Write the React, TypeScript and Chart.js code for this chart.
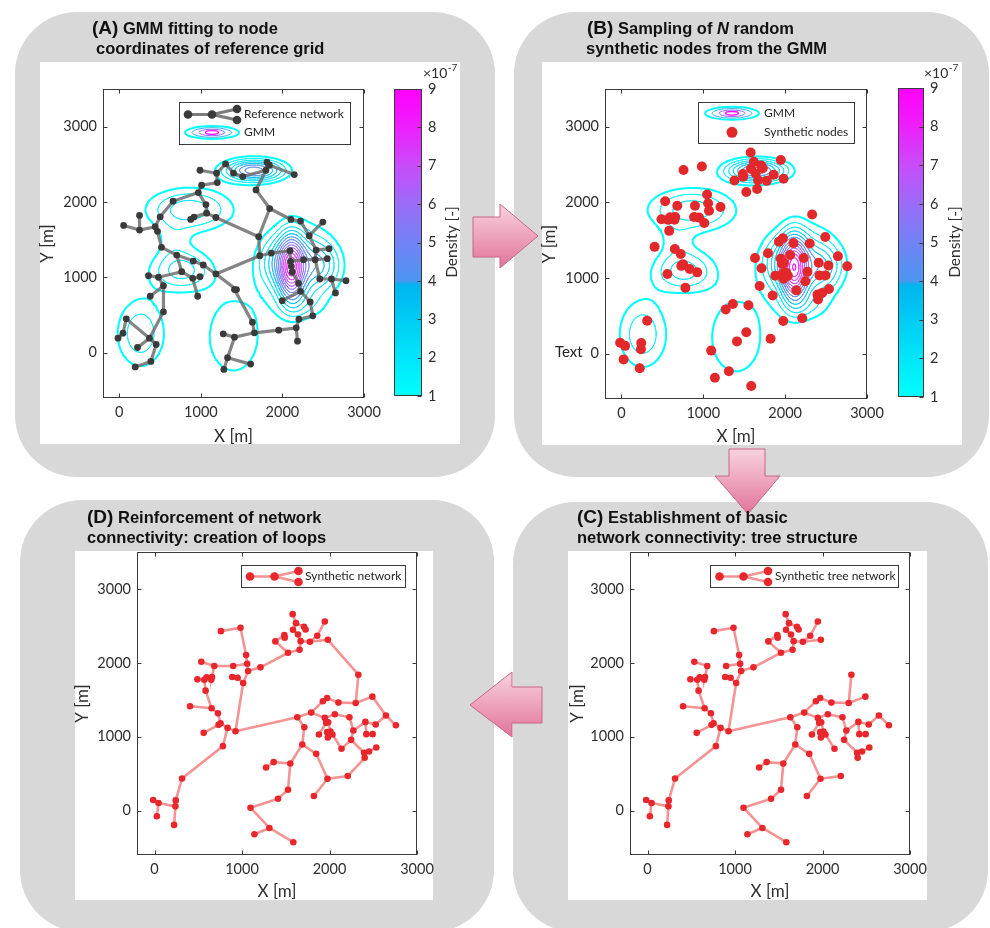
import React, { useEffect, useRef } from "react";
import { Chart, registerables } from "chart.js";

Chart.register(...registerables);

// ------------------------------------------------------------------ data
const X_TICKS = [0, 1000, 2000, 3000];
const Y_TICKS = [0, 1000, 2000, 3000];
const X_LIMITS = [-200, 3000];
const Y_LIMITS = [-600, 3500];
const COLORBAR_TICKS = [1, 2, 3, 4, 5, 6, 7, 8, 9];
const COLORBAR_LIMITS = [1, 9];
const CONTOUR_LEVELS = [1, 1.6, 2.2, 2.8, 3.4, 4.0, 4.6, 5.2, 5.8, 6.4, 7.0, 7.6, 8.2, 8.8];
const CMAP_STOPS = [1, 2, 3, 3.9, 4.0, 5, 6, 7, 8, 9];
const CMAP_COLORS = ["#00ffff", "#00e6fa", "#00ccf5", "#00b4f0", "#4b96f0", "#7282f5", "#9a6cf7", "#c84cfa", "#ee1ffd", "#ff00ff"];

// Gaussian mixture components (metres), weights sum ~1
const GMM_MEAN_X = [1650, 860, 760, 260, 1400, 2110, 2250, 2470, 2250, 650, 1900];
const GMM_MEAN_Y = [2420, 1900, 1100, 258, 215, 1120, 1200, 1150, 620, 1500, 1200];
const GMM_SIGMA_X = [260, 390, 272, 235, 310, 110, 300, 170, 220, 150, 170];
const GMM_SIGMA_Y = [105, 210, 203, 365, 480, 300, 360, 200, 160, 150, 250];
const GMM_WEIGHT = [0.0858, 0.1338, 0.0867, 0.1094, 0.1449, 0.1161, 0.1832, 0.0342, 0.0221, 0.0099, 0.0427];

// Reference network (panel A)
const REF_X = [989, 1193, 1201, 1303, 1400, 1514, 1798, 1811, 1840, 2145, 1676, 1844, 1709, 1722,
  1009, 969, 659, 501, 875, 916, 1062, 1070, 1184,
  53, 248, 248, 440, 468, 517,
  704, 907, 1029, 765, 900, 989, 961, 358, 480, 541, 379, 541,
  1184, 1437, 1412, 1632, 1656, 1412, 1274, 1327, 1282, 1610,
  1954, 2169, 2185, 2202, 2372,
  1864, 2092, 2100, 2109, 2120, 2197, 2222, 1998, 2340, 2104, 2222, 2328, 2495, 2413, 2572, 2401, 2550, 2458, 2601, 2780, 2650, 2259,
  85, -16, 45, 223, 370, 452, 387, 195];
const REF_Y = [2422, 2382, 2258, 2506, 2383, 2338, 2422, 2528, 2488, 2365, 2161, 1914, 1540, 1288,
  2223, 2126, 2012, 1804, 1769, 1800, 1967, 1853, 1795,
  1690, 1628, 1822, 1672, 1611, 1399,
  1297, 1217, 1165, 1076, 988, 1010, 750, 1023, 1002, 891, 750, 543,
  1046, 838, 838, 406, 265, 207, 251, -66, -221, -150,
  300, 331, 154, 445, 490,
  1323, 1354, 1213, 1147, 1072, 922, 816, 692, 675, 1769, 1747, 1553, 1734, 1363, 1381, 1235, 1248, 979, 979, 957, 794, 1235,
  450, 194, 260, 70, 194, 110, -115, -188];
const REF_EDGES = [
  [0, 1], [1, 3], [1, 2], [3, 4], [4, 5], [5, 6], [6, 7], [7, 8], [8, 9], [6, 10], [10, 11], [11, 12], [12, 13], [11, 65],
  [2, 14], [14, 15], [15, 16], [16, 17], [17, 26], [15, 20], [20, 21], [21, 19], [19, 18], [21, 22], [22, 12],
  [23, 24], [25, 24], [24, 26], [26, 27], [27, 28], [28, 29], [29, 30], [30, 31], [29, 32], [32, 33], [33, 34], [33, 35],
  [32, 37], [37, 36], [37, 38], [38, 39], [38, 40], [40, 82],
  [78, 82], [79, 80], [80, 78], [81, 82], [82, 83], [83, 84], [84, 85],
  [41, 31], [41, 13], [41, 42], [42, 43], [43, 44], [44, 45], [45, 46], [46, 47], [46, 48], [48, 49], [48, 50],
  [45, 51], [51, 52], [52, 53], [52, 54], [54, 55], [55, 64],
  [13, 56], [56, 57], [57, 58], [58, 59], [59, 60], [60, 61], [61, 62], [62, 63], [62, 64],
  [65, 66], [66, 67], [67, 68], [67, 69], [69, 70], [69, 71], [71, 72], [71, 77], [77, 58], [71, 73], [73, 74], [74, 75], [74, 76],
];

// Synthetic nodes (panels B, C, D)
const SYN_X = [1579, 1617, 1708, 1727, 1583, 1640, 1484, 1488, 1381, 1670, 1776, 1860, 1947, 1981, 1658, 1526,
  759, 983, 1047, 1059, 1070, 1211, 899, 683, 535, 888, 949, 1013, 490, 569, 596, 657, 649, 584, 406, 653, 725, 755, 732, 835, 926, 562, 782, 315, 243, 239, 46, -15, 27, 224,
  2330, 2300, 2490, 2102, 1973, 1924, 1791, 1632, 1712, 1689, 1552, 1526, 1412, 1097, 1313, 1142, 1586, 1362, 1275, 1848, 1977, 2209, 1822,
  1947, 1962, 1985, 2061, 2228, 1879, 1973, 2011, 2034, 1981, 2137, 2247, 2273, 2410, 2528, 2645, 2759, 2421, 2493, 2395, 2452, 2535, 2402];
const SYN_Y = [2659, 2537, 2488, 2452, 2447, 2384, 2375, 2339, 2290, 2294, 2285, 2366, 2560, 2312, 2177, 2137,
  2429, 2474, 2105, 1988, 1889, 1939, 1957, 1957, 2015, 1808, 1799, 1727, 1777, 1772, 1804, 1808, 1772, 1624, 1412, 1385, 1318, 1183, 1161, 1120, 1075, 1053, 873, 436, 139, 58, 103, 144, -76, -193,
  1840, 1457, 1543, 1462, 1525, 1480, 1327, 1264, 1129, 895, 639, 283, 162, 40, -234, -319, -427, 657, 585, 769, 432, 468, 198,
  1255, 1188, 1197, 1305, 1264, 1030, 1062, 1071, 1030, 990, 837, 958, 1084, 1201, 1165, 1287, 1156, 1035, 1035, 783, 801, 855, 715];
const TREE_EDGES = [
  [15, 8], [8, 6], [6, 7], [15, 14], [14, 9], [9, 5], [5, 4], [4, 1], [1, 0], [1, 2], [2, 3], [9, 10], [10, 11], [11, 12], [10, 13],
  [21, 15], [20, 21], [20, 19], [19, 18], [18, 17], [17, 16], [19, 22], [20, 27], [27, 26], [26, 25], [40, 27],
  [40, 39], [39, 37], [37, 38], [38, 41], [37, 36], [36, 35], [35, 34], [35, 33], [33, 29], [29, 28], [29, 30], [30, 31], [31, 32], [31, 23], [23, 24],
  [39, 42], [42, 43], [43, 44], [44, 45], [45, 49], [45, 46], [46, 47], [46, 48],
  [40, 57], [57, 56], [56, 55], [55, 54], [54, 53], [53, 51], [51, 50], [51, 52],
  [56, 73], [73, 74], [74, 78], [73, 75], [75, 80], [80, 79], [79, 82], [80, 81], [81, 83],
  [73, 76], [76, 77], [77, 85], [85, 84], [84, 92], [92, 93], [93, 94], [92, 95], [85, 86], [86, 87], [87, 88], [88, 89], [86, 90], [90, 91],
  [57, 58], [58, 59], [59, 60], [60, 61], [61, 62], [62, 63], [63, 64], [64, 66], [64, 65], [60, 67], [67, 68], [59, 69], [69, 70], [70, 71], [70, 72],
];
const LOOP_EDGES = [[13, 50], [23, 22], [52, 88], [71, 95], [83, 84]];

// ------------------------------------------------------------------ styling
const FONT = "Lato, 'Open Sans', sans-serif";
const TITLE_FONT = "'Liberation Sans', Arial, sans-serif";
const INK = "#2e2e2e";
const TICK_SIZE = 14.5;
const AXIS_TITLE_SIZE = 17;
const PANEL_GRAY = "#d8d8d8";
const RED = "#e8262b";
const RED_EDGE = "rgba(240,105,105,0.72)";

type Rect = { x: number; y: number; w: number; h: number };
type Box = { l: number; t: number; r: number; b: number };

// ------------------------------------------------------------------ helpers
function hexRgb(h: string) {
  const n = parseInt(h.slice(1), 16);
  return [(n >> 16) & 255, (n >> 8) & 255, n & 255];
}
function cmap(v: number) {
  const s = CMAP_STOPS;
  if (v <= s[0]) return CMAP_COLORS[0];
  if (v >= s[s.length - 1]) return CMAP_COLORS[s.length - 1];
  let i = 0;
  while (v > s[i + 1]) i++;
  const t = (v - s[i]) / (s[i + 1] - s[i]);
  const a = hexRgb(CMAP_COLORS[i]);
  const b = hexRgb(CMAP_COLORS[i + 1]);
  const c = a.map((av, k) => Math.round(av + (b[k] - av) * t));
  return `rgb(${c[0]},${c[1]},${c[2]})`;
}

function density(x: number, y: number) {
  let s = 0;
  for (let k = 0; k < GMM_WEIGHT.length; k++) {
    const dx = (x - GMM_MEAN_X[k]) / GMM_SIGMA_X[k];
    const dy = (y - GMM_MEAN_Y[k]) / GMM_SIGMA_Y[k];
    s += (GMM_WEIGHT[k] / (2 * Math.PI * GMM_SIGMA_X[k] * GMM_SIGMA_Y[k])) * Math.exp(-0.5 * (dx * dx + dy * dy));
  }
  return s * 1e7;
}

let GRID: { nx: number; ny: number; step: number; v: Float64Array } | null = null;
function getGrid() {
  if (GRID) return GRID;
  const step = 16;
  const nx = Math.round((X_LIMITS[1] - X_LIMITS[0]) / step);
  const ny = Math.round((Y_LIMITS[1] - Y_LIMITS[0]) / step);
  const v = new Float64Array((nx + 1) * (ny + 1));
  for (let j = 0; j <= ny; j++)
    for (let i = 0; i <= nx; i++) v[j * (nx + 1) + i] = density(X_LIMITS[0] + i * step, Y_LIMITS[0] + j * step);
  GRID = { nx, ny, step, v };
  return GRID;
}

function contourPoints(level: number) {
  const { nx, ny, step, v } = getGrid();
  const out: { x: number; y: number }[] = [];
  for (let j = 0; j < ny; j++) {
    for (let i = 0; i < nx; i++) {
      const x0 = X_LIMITS[0] + i * step, y0 = Y_LIMITS[0] + j * step;
      const x1 = x0 + step, y1 = y0 + step;
      const a = v[j * (nx + 1) + i], b = v[j * (nx + 1) + i + 1];
      const c = v[(j + 1) * (nx + 1) + i + 1], d = v[(j + 1) * (nx + 1) + i];
      const idx = (a > level ? 1 : 0) | (b > level ? 2 : 0) | (c > level ? 4 : 0) | (d > level ? 8 : 0);
      if (idx === 0 || idx === 15) continue;
      const e = (k: number) => {
        if (k === 0) return { x: x0 + ((level - a) / (b - a)) * step, y: y0 };
        if (k === 1) return { x: x1, y: y0 + ((level - b) / (c - b)) * step };
        if (k === 2) return { x: x0 + ((level - d) / (c - d)) * step, y: y1 };
        return { x: x0, y: y0 + ((level - a) / (d - a)) * step };
      };
      let pairs: number[][] = [];
      const m = (a + b + c + d) / 4;
      switch (idx) {
        case 1: case 14: pairs = [[3, 0]]; break;
        case 2: case 13: pairs = [[0, 1]]; break;
        case 3: case 12: pairs = [[3, 1]]; break;
        case 4: case 11: pairs = [[1, 2]]; break;
        case 6: case 9: pairs = [[0, 2]]; break;
        case 7: case 8: pairs = [[3, 2]]; break;
        case 5: pairs = m > level ? [[0, 1], [2, 3]] : [[3, 0], [1, 2]]; break;
        case 10: pairs = m > level ? [[3, 0], [1, 2]] : [[0, 1], [2, 3]]; break;
      }
      for (const [p, q] of pairs) out.push(e(p), e(q), { x: NaN, y: NaN });
    }
  }
  return out;
}

function contourDatasets() {
  return CONTOUR_LEVELS.map((lv, i) => ({
    label: `level ${lv}`,
    data: contourPoints(lv),
    showLine: true,
    pointRadius: 0,
    borderColor: cmap(lv),
    borderWidth: i === 0 ? 2.0 : 0.95,
    borderCapStyle: "round",
    borderJoinStyle: "round",
    tension: 0,
    order: 10 + i,
  }));
}

function edgeSegments(xs: number[], ys: number[], edges: number[][]) {
  const out: { x: number; y: number }[] = [];
  for (const [i, j] of edges) out.push({ x: xs[i], y: ys[i] }, { x: xs[j], y: ys[j] }, { x: NaN, y: NaN });
  return out;
}
function nodePoints(xs: number[], ys: number[]) {
  return xs.map((x, i) => ({ x, y: ys[i] }));
}

// ------------------------------------------------------------------ plugins
const boxPlugin = {
  id: "matlabBox",
  afterDatasetsDraw(chart: any) {
    const { ctx, chartArea: a, scales } = chart;
    ctx.save();
    ctx.strokeStyle = "#3a3a3a";
    ctx.lineWidth = 1;
    const L = Math.round(a.left) + 0.5, T = Math.round(a.top) + 0.5;
    const R = Math.round(a.right) - 0.5, B = Math.round(a.bottom) - 0.5;
    ctx.strokeRect(L, T, R - L, B - T);
    ctx.beginPath();
    for (const v of X_TICKS) {
      const px = Math.round(scales.x.getPixelForValue(v)) + 0.5;
      ctx.moveTo(px, B); ctx.lineTo(px, B - 4);
      ctx.moveTo(px, T); ctx.lineTo(px, T + 4);
    }
    for (const v of Y_TICKS) {
      const py = Math.round(scales.y.getPixelForValue(v)) + 0.5;
      ctx.moveTo(L, py); ctx.lineTo(L + 4, py);
      ctx.moveTo(R, py); ctx.lineTo(R - 4, py);
    }
    ctx.stroke();
    ctx.restore();
  },
};

function legendPlugin(origin: Rect, draw: (ctx: CanvasRenderingContext2D) => void) {
  return {
    id: "customLegend",
    afterDraw(chart: any) {
      const ctx = chart.ctx as CanvasRenderingContext2D;
      ctx.save();
      ctx.translate(-origin.x, -origin.y);
      draw(ctx);
      ctx.restore();
    },
  };
}

function legendFrame(ctx: CanvasRenderingContext2D, b: Box) {
  ctx.fillStyle = "#ffffff";
  ctx.fillRect(b.l, b.t, b.r - b.l, b.b - b.t);
  ctx.strokeStyle = "#3a3a3a";
  ctx.lineWidth = 1;
  ctx.strokeRect(b.l + 0.5, b.t + 0.5, b.r - b.l - 1, b.b - b.t - 1);
}
function legendText(ctx: CanvasRenderingContext2D, text: string, x: number, y: number) {
  ctx.fillStyle = "#1e1e1e";
  ctx.font = `12px ${FONT}`;
  ctx.textAlign = "left";
  ctx.textBaseline = "middle";
  ctx.fillText(text, x, y);
}
function gmmIcon(ctx: CanvasRenderingContext2D, cx: number, cy: number) {
  const rx = [27, 20, 13, 6.5], ry = [6.5, 4.8, 3.2, 1.8];
  const col = ["#00ffff", "#3fb0f3", "#9a6cf7", "#ff00ff"], lw = [2, 1, 1, 1.3];
  for (let i = 0; i < 4; i++) {
    ctx.beginPath();
    ctx.strokeStyle = col[i];
    ctx.lineWidth = lw[i];
    ctx.ellipse(cx, cy, rx[i], ry[i], 0, 0, Math.PI * 2);
    ctx.stroke();
  }
}
function networkIcon(ctx: CanvasRenderingContext2D, xs: number[], cy: number, edge: string, edgeW: number, node: string, r: number) {
  const pts = [[xs[0], cy], [xs[1], cy], [xs[2], cy - 5.5], [xs[2], cy + 5.5]];
  ctx.strokeStyle = edge;
  ctx.lineWidth = edgeW;
  ctx.lineCap = "round";
  ctx.beginPath();
  ctx.moveTo(pts[0][0], pts[0][1]); ctx.lineTo(pts[1][0], pts[1][1]);
  ctx.moveTo(pts[1][0], pts[1][1]); ctx.lineTo(pts[2][0], pts[2][1]);
  ctx.moveTo(pts[1][0], pts[1][1]); ctx.lineTo(pts[3][0], pts[3][1]);
  ctx.stroke();
  ctx.fillStyle = node;
  for (const p of pts) {
    ctx.beginPath();
    ctx.arc(p[0], p[1], r, 0, Math.PI * 2);
    ctx.fill();
  }
}

// ------------------------------------------------------------------ chart configs
type MainSpec = { canvas: Rect; plot: Box; yTitleX: number; xTitleY: number };

function axisCommon() {
  return {
    type: "linear",
    grid: { display: false, drawTicks: false },
    border: { display: false },
    ticks: { padding: 6, color: INK, font: { family: FONT, size: TICK_SIZE }, autoSkip: false, maxRotation: 0, callback: (v: any) => String(v) },
  };
}

function mainConfig(spec: MainSpec, datasets: any[], legend: (ctx: CanvasRenderingContext2D) => void) {
  const c = spec.canvas, p = spec.plot;
  const lh = AXIS_TITLE_SIZE * 1.2;
  return {
    type: "scatter",
    data: { datasets },
    options: {
      responsive: false,
      animation: false,
      devicePixelRatio: 1,
      events: [],
      layout: { padding: { left: 0, top: p.t - c.y, right: c.x + c.w - p.r, bottom: 0 } },
      plugins: { legend: { display: false }, tooltip: { enabled: false } },
      scales: {
        x: {
          ...axisCommon(),
          min: X_LIMITS[0],
          max: X_LIMITS[1],
          afterBuildTicks: (s: any) => { s.ticks = X_TICKS.map((v) => ({ value: v })); },
          afterFit: (s: any) => { s.height = c.y + c.h - p.b; s.paddingLeft = 0; s.paddingRight = 0; },
          title: { display: true, text: "X [m]", color: INK, font: { family: FONT, size: AXIS_TITLE_SIZE }, padding: { top: 0, bottom: c.y + c.h - spec.xTitleY - lh / 2 } },
        },
        y: {
          ...axisCommon(),
          min: Y_LIMITS[0],
          max: Y_LIMITS[1],
          afterBuildTicks: (s: any) => { s.ticks = Y_TICKS.map((v) => ({ value: v })); },
          afterFit: (s: any) => { s.width = p.l - c.x; s.paddingTop = 0; s.paddingBottom = 0; },
          title: { display: true, text: "Y [m]", color: INK, font: { family: FONT, size: AXIS_TITLE_SIZE }, padding: { top: spec.yTitleX - c.x - lh / 2, bottom: 0 } },
        },
      },
    },
    plugins: [boxPlugin, legendPlugin(c, legend)],
  };
}

type CbSpec = { canvas: Rect; bar: Box; expX: number; labelX: number; labelY: number };

function colorbarConfig(spec: CbSpec) {
  const c = spec.canvas, b = spec.bar;
  return {
    type: "bar",
    data: {
      labels: ["density"],
      datasets: [
        {
          data: [COLORBAR_LIMITS],
          borderWidth: 0,
          barPercentage: 1,
          categoryPercentage: 1,
          backgroundColor: (context: any) => {
            const chart = context.chart;
            const ys = chart.scales && chart.scales.y;
            if (!chart.chartArea || !ys) return CMAP_COLORS[0];
            const y0 = ys.getPixelForValue(COLORBAR_LIMITS[0]);
            const y1 = ys.getPixelForValue(COLORBAR_LIMITS[1]);
            const g = chart.ctx.createLinearGradient(0, y0, 0, y1);
            const span = COLORBAR_LIMITS[1] - COLORBAR_LIMITS[0];
            CMAP_STOPS.forEach((v, i) => g.addColorStop((v - COLORBAR_LIMITS[0]) / span, CMAP_COLORS[i]));
            return g;
          },
        },
      ],
    },
    options: {
      responsive: false,
      animation: false,
      devicePixelRatio: 1,
      events: [],
      layout: { padding: { left: b.l - c.x, top: b.t - c.y, right: 0, bottom: c.y + c.h - b.b } },
      plugins: { legend: { display: false }, tooltip: { enabled: false } },
      scales: {
        x: { display: false },
        y: {
          ...axisCommon(),
          position: "right",
          min: COLORBAR_LIMITS[0],
          max: COLORBAR_LIMITS[1],
          afterBuildTicks: (s: any) => { s.ticks = COLORBAR_TICKS.map((v) => ({ value: v })); },
          afterFit: (s: any) => { s.width = c.x + c.w - b.r; s.paddingTop = 0; s.paddingBottom = 0; },
        },
      },
    },
    plugins: [
      {
        id: "colorbarDecor",
        afterDraw(chart: any) {
          const { ctx, chartArea: a, scales } = chart;
          ctx.save();
          ctx.strokeStyle = "#3a3a3a";
          ctx.lineWidth = 1;
          const L = Math.round(a.left) + 0.5, T = Math.round(a.top) + 0.5;
          const R = Math.round(a.right) - 0.5, B = Math.round(a.bottom) - 0.5;
          ctx.strokeRect(L, T, R - L, B - T);
          ctx.beginPath();
          for (const v of COLORBAR_TICKS) {
            const py = Math.round(scales.y.getPixelForValue(v)) + 0.5;
            ctx.moveTo(R, py); ctx.lineTo(R - 4, py);
          }
          ctx.stroke();
          ctx.translate(-c.x, -c.y);
          ctx.fillStyle = INK;
          ctx.textBaseline = "alphabetic";
          ctx.textAlign = "left";
          ctx.font = `14px ${FONT}`;
          ctx.fillText("\u00d710", spec.expX, 78);
          const w = ctx.measureText("\u00d710").width;
          ctx.font = `10px ${FONT}`;
          ctx.fillText("-7", spec.expX + w + 0.5, 71);
          ctx.translate(spec.labelX, spec.labelY);
          ctx.rotate(-Math.PI / 2);
          ctx.textAlign = "center";
          ctx.textBaseline = "middle";
          ctx.font = `15.5px ${FONT}`;
          ctx.fillText("Density [-]", 0, 0);
          ctx.restore();
        },
      },
    ],
  };
}

// ------------------------------------------------------------------ panel specs
const SPEC_A: MainSpec = { canvas: { x: 20, y: 62, w: 380, h: 392 }, plot: { l: 103, t: 89, r: 364, b: 398 }, yTitleX: 48, xTitleY: 436.5 };
const SPEC_B: MainSpec = { canvas: { x: 520, y: 62, w: 382, h: 392 }, plot: { l: 605, t: 89, r: 867, b: 399 }, yTitleX: 549.5, xTitleY: 436.5 };
const SPEC_D: MainSpec = { canvas: { x: 60, y: 548, w: 385, h: 358 }, plot: { l: 137, t: 552, r: 417, b: 855 }, yTitleX: 82.5, xTitleY: 891.5 };
const SPEC_C: MainSpec = { canvas: { x: 553, y: 548, w: 385, h: 358 }, plot: { l: 630, t: 552, r: 910, b: 855 }, yTitleX: 577.5, xTitleY: 891.5 };
const CB_A: CbSpec = { canvas: { x: 385, y: 55, w: 95, h: 355 }, bar: { l: 394, t: 89, r: 422, b: 396 }, expX: 423, labelX: 452, labelY: 242 };
const CB_B: CbSpec = { canvas: { x: 888, y: 55, w: 100, h: 355 }, bar: { l: 898, t: 88, r: 924, b: 397 }, expX: 924, labelX: 954.5, labelY: 242 };

function configA() {
  return mainConfig(
    SPEC_A,
    [
      { label: "nodes", data: nodePoints(REF_X, REF_Y), showLine: false, pointRadius: 3.4, pointBackgroundColor: "#3a3a3a", pointBorderWidth: 0, order: 0 },
      { label: "edges", data: edgeSegments(REF_X, REF_Y, REF_EDGES), showLine: true, pointRadius: 0, borderColor: "rgba(110,110,110,0.85)", borderWidth: 3.2, borderCapStyle: "round", order: 1 },
      ...contourDatasets(),
    ],
    (ctx) => {
      legendFrame(ctx, { l: 179, t: 102, r: 351, b: 145 });
      networkIcon(ctx, [188, 212, 237], 114.5, "rgba(110,110,110,0.9)", 3, "#3a3a3a", 4.3);
      legendText(ctx, "Reference network", 244, 114.5);
      gmmIcon(ctx, 212, 132.5);
      legendText(ctx, "GMM", 244, 132.5);
    }
  );
}
function configB() {
  return mainConfig(
    SPEC_B,
    [
      { label: "nodes", data: nodePoints(SYN_X, SYN_Y), showLine: false, pointRadius: 5, pointBackgroundColor: "#e3282b", pointBorderWidth: 0, order: 0 },
      ...contourDatasets(),
    ],
    (ctx) => {
      legendFrame(ctx, { l: 698, t: 102, r: 855, b: 144 });
      gmmIcon(ctx, 732, 113.3);
      legendText(ctx, "GMM", 764, 113.3);
      ctx.fillStyle = "#e3282b";
      ctx.beginPath();
      ctx.arc(732, 132.3, 5.5, 0, Math.PI * 2);
      ctx.fill();
      legendText(ctx, "Synthetic nodes", 764, 132.3);
    }
  );
}
function networkConfig(spec: MainSpec, edges: number[][], label: string, box: Box, iconX: number[], textX: number) {
  return mainConfig(
    spec,
    [
      { label: "nodes", data: nodePoints(SYN_X, SYN_Y), showLine: false, pointRadius: 3.3, pointBackgroundColor: RED, pointBorderWidth: 0, order: 0 },
      { label: "edges", data: edgeSegments(SYN_X, SYN_Y, edges), showLine: true, pointRadius: 0, borderColor: RED_EDGE, borderWidth: 2.6, borderCapStyle: "round", order: 1 },
    ],
    (ctx) => {
      legendFrame(ctx, box);
      networkIcon(ctx, iconX, 576.5, RED_EDGE, 2.4, RED, 4.3);
      legendText(ctx, label, textX, 576.5);
    }
  );
}
const configD = () => networkConfig(SPEC_D, [...TREE_EDGES, ...LOOP_EDGES], "Synthetic network", { l: 241, t: 565, r: 406, b: 588 }, [250, 274.5, 298.5], 305);
const configC = () => networkConfig(SPEC_C, TREE_EDGES, "Synthetic tree network", { l: 710, t: 565, r: 899, b: 588 }, [719.5, 743.5, 768], 775);

// ------------------------------------------------------------------ components
function ChartCanvas({ rect, make }: { rect: Rect; make: () => any }) {
  const ref = useRef<HTMLCanvasElement>(null);
  useEffect(() => {
    const chart = new Chart(ref.current as HTMLCanvasElement, make());
    return () => chart.destroy();
  }, []);
  return (
    <canvas
      ref={ref}
      width={rect.w}
      height={rect.h}
      style={{ position: "absolute", left: rect.x, top: rect.y, width: rect.w, height: rect.h }}
    />
  );
}

const panelStyle = (l: number, t: number, w: number, h: number): React.CSSProperties => ({
  position: "absolute", left: l, top: t, width: w, height: h, background: PANEL_GRAY, borderRadius: 62,
});
const whiteStyle = (l: number, t: number, r: number, b: number): React.CSSProperties => ({
  position: "absolute", left: l, top: t, width: r - l, height: b - t, background: "#ffffff",
});

export default function App() {
  return (
    <div style={{ position: "absolute", left: 0, top: 0, width: 990, height: 928, background: "#ffffff", overflow: "hidden" }}>
      <div style={panelStyle(15, 12, 480, 465)} />
      <div style={panelStyle(514, 12, 475, 465)} />
      <div style={panelStyle(20, 500, 474, 432)} />
      <div style={panelStyle(513, 502, 475, 430)} />
      <div style={whiteStyle(40, 62, 460, 444)} />
      <div style={whiteStyle(542, 62, 962, 445)} />
      <div style={whiteStyle(75, 551, 433, 900)} />
      <div style={whiteStyle(568, 551, 927, 900)} />

      <ChartCanvas rect={SPEC_A.canvas} make={configA} />
      <ChartCanvas rect={CB_A.canvas} make={() => colorbarConfig(CB_A)} />
      <ChartCanvas rect={SPEC_B.canvas} make={configB} />
      <ChartCanvas rect={CB_B.canvas} make={() => colorbarConfig(CB_B)} />
      <ChartCanvas rect={SPEC_D.canvas} make={configD} />
      <ChartCanvas rect={SPEC_C.canvas} make={configC} />

      <svg width={990} height={928} style={{ position: "absolute", left: 0, top: 0, pointerEvents: "none" }}>
        <defs>
          <linearGradient id="pinkV" x1="0" y1="0" x2="0" y2="1">
            <stop offset="0" stopColor="#f8d3df" />
            <stop offset="1" stopColor="#e2739a" />
          </linearGradient>
        </defs>
        <polygon points="473,217 500,217 500,204 538,236 500,268 500,257 473,257" fill="url(#pinkV)" stroke="#c9648a" strokeWidth={1} />
        <polygon points="729,449 765,449 765,476 780,476 748,514 715,476 729,476" fill="url(#pinkV)" stroke="#c9648a" strokeWidth={1} />
        <polygon points="542,687 512,687 512,672 470,705 512,737 512,723 542,723" fill="url(#pinkV)" stroke="#c9648a" strokeWidth={1} />

        <g fontFamily={TITLE_FONT} fontWeight="bold" fontSize={16.5} fill="#111">
          <text x={92} y={33.5}><tspan fontSize={19}>(A)</tspan> GMM fitting to node</text>
          <text x={96} y={53.5}>coordinates of reference grid</text>
          <text x={587} y={33.5}><tspan fontSize={19}>(B)</tspan> Sampling of <tspan fontStyle="italic">N</tspan> random</text>
          <text x={586} y={53.5}>synthetic nodes from the GMM</text>
          <text x={87} y={522.5}><tspan fontSize={19}>(D)</tspan> Reinforcement of network</text>
          <text x={87} y={542.5}>connectivity: creation of loops</text>
          <text x={577} y={522.5}><tspan fontSize={19}>(C)</tspan> Establishment of basic</text>
          <text x={577} y={542.5}>network connectivity: tree structure</text>
        </g>
        <text x={555} y={357} fontFamily={FONT} fontSize={15} fill="#222">Text</text>
      </svg>
    </div>
  );
}
